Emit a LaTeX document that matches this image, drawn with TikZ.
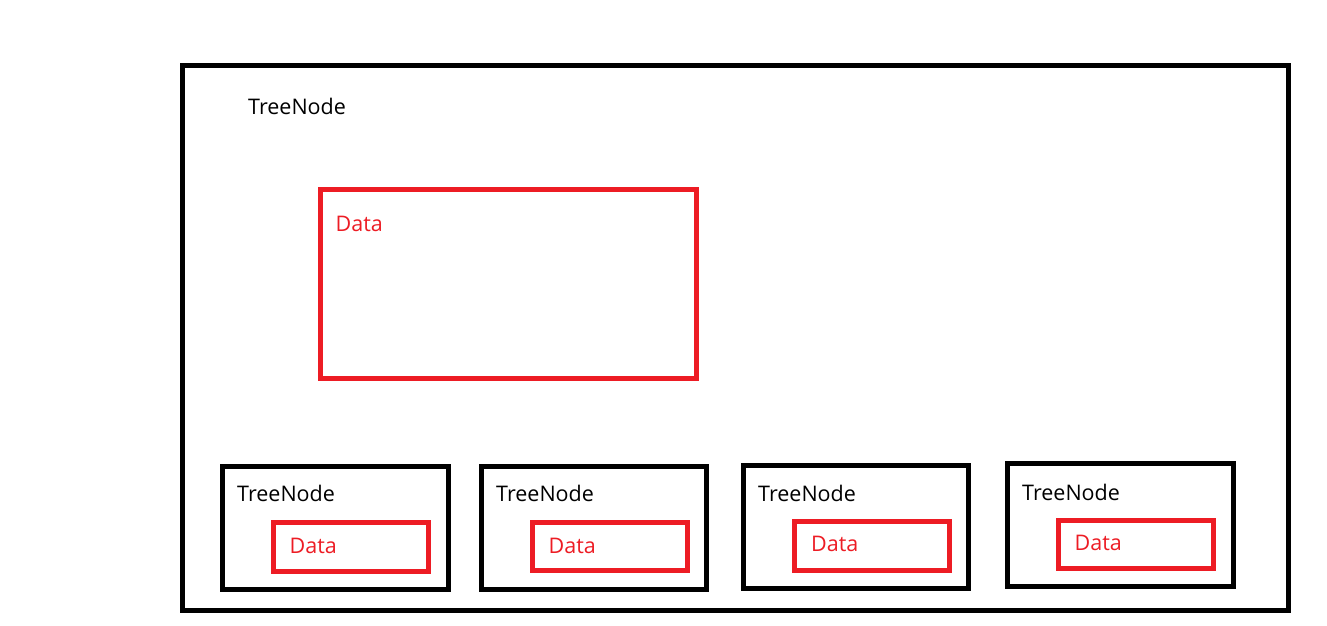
\documentclass[tikz,border=0pt]{standalone}
\usepackage{fontspec}
\setmainfont{Open Sans}
\definecolor{pred}{HTML}{ED1C24}
\newcommand\rbox[6]{%
  \node[#6, minimum width={#4-#2}, minimum height={#5-#3}] (#1) at ({(#2+#4)/2},{(#3+#5)/2}) {};}
\begin{document}
\begin{tikzpicture}[x=1pt,y=-1pt,
  blackbox/.style={draw=black, line width=5pt, inner sep=0pt, outer sep=0pt},
  redbox/.style={draw=pred, line width=5pt, inner sep=0pt, outer sep=0pt},
  lbl/.style={font=\fontsize{21.5}{25}\selectfont, inner sep=0pt, anchor=base west},
  rlbl/.style={lbl, text=pred}]
\useasboundingbox (0,0) rectangle (1327,626);
\fill[white] (0,0) rectangle (1327,626);
\rbox{outer}{182.5}{65.5}{1288}{610}{blackbox}
\rbox{bigdata}{320}{189.5}{696.5}{378.2}{redbox}
\node[lbl] (tn0) at (248,114) {TreeNode};
\node[rlbl] (d0) at (335.5,231.7) {Data};
% child 1
\rbox{c1}{222.5}{466.5}{448}{589}{blackbox}
\rbox{r1}{273.5}{522.5}{428.5}{571}{redbox}
\node[lbl] (tn1) at (237,501.7) {TreeNode};
\node[rlbl] (d1) at (289.5,553.3) {Data};
% child 2
\rbox{c2}{481.8}{466.8}{706.8}{589.2}{blackbox}
\rbox{r2}{532.5}{522.5}{687.5}{570.8}{redbox}
\node[lbl] (tn2) at (496,501.7) {TreeNode};
\node[rlbl] (d2) at (548.5,553) {Data};
% child 3
\rbox{c3}{743.8}{465.8}{968.8}{588.2}{blackbox}
\rbox{r3}{794.8}{521.5}{949.2}{570.2}{redbox}
\node[lbl] (tn3) at (758,501) {TreeNode};
\node[rlbl] (d3) at (811,551.7) {Data};
% child 4
\rbox{c4}{1007.5}{463.5}{1233.5}{586}{blackbox}
\rbox{r4}{1058.5}{520}{1213.5}{568.5}{redbox}
\node[lbl] (tn4) at (1022,500) {TreeNode};
\node[rlbl] (d4) at (1074.5,550) {Data};
\end{tikzpicture}
\end{document}
